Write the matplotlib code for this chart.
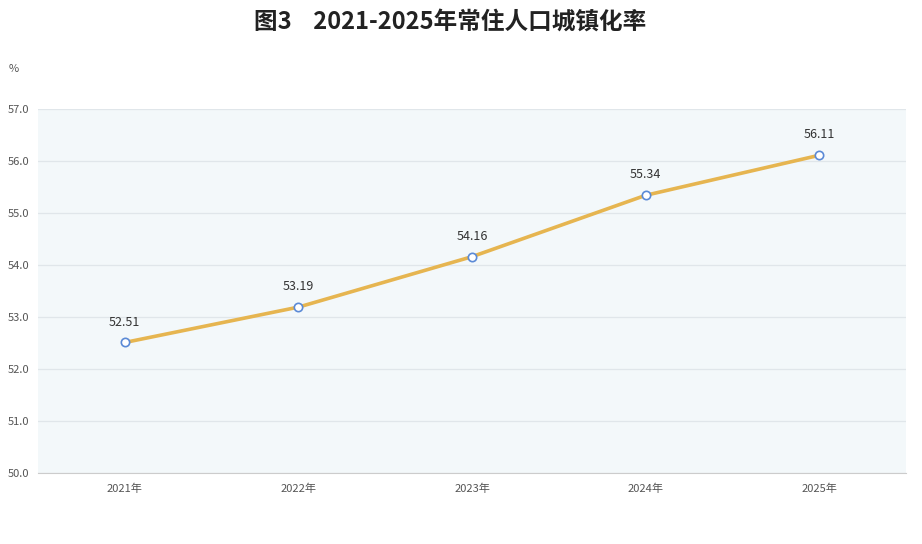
import matplotlib.pyplot as plt

plt.rcParams['font.family'] = ['Noto Sans CJK SC', 'DejaVu Sans']

years = ['2021年', '2022年', '2023年', '2024年', '2025年']
rate = [52.51, 53.19, 54.16, 55.34, 56.11]
yticks = [50.0, 51.0, 52.0, 53.0, 54.0, 55.0, 56.0, 57.0]

fig = plt.figure(figsize=(9.22, 5.44), dpi=100)
ax = fig.add_axes([38 / 922, 1 - 473 / 544, 868 / 922, 364 / 544])
ax.set_facecolor('#f3f8fa')

x = list(range(len(years)))
ax.plot(x, rate, color='#e6b550', lw=2.6, marker='o', ms=6,
        mfc='white', mec='#5b8ad6', mew=1.2, zorder=3)
for xi, v in zip(x, rate):
    ax.annotate(f'{v:.2f}', (xi, v), xytext=(0, 10), textcoords='offset points',
                ha='center', va='bottom', fontsize=9, color='#333333')

ax.set_xlim(-0.5, len(years) - 0.5)
ax.set_ylim(50, 57)
ax.set_xticks(x)
ax.set_xticklabels(years)
ax.set_yticks(yticks)
ax.set_yticklabels([f'{t:.1f}' for t in yticks])
ax.tick_params(axis='both', length=0, labelsize=8, colors='#555555')
ax.tick_params(axis='x', pad=8)
ax.tick_params(axis='y', pad=6)
ax.grid(axis='y', color='#e0e6ea', lw=0.9)
ax.set_axisbelow(True)
for s in ['top', 'right', 'left']:
    ax.spines[s].set_visible(False)
ax.spines['bottom'].set_color('#cccccc')

fig.text(9 / 922, 1 - 69 / 544, '%', fontsize=8, color='#555555', va='center')
fig.text(450 / 922, 1 - 22 / 544, '图3    2021-2025年常住人口城镇化率',
         fontsize=17, fontweight='bold', ha='center', va='center', color='#222222')

fig.savefig('out.png', dpi=100)
